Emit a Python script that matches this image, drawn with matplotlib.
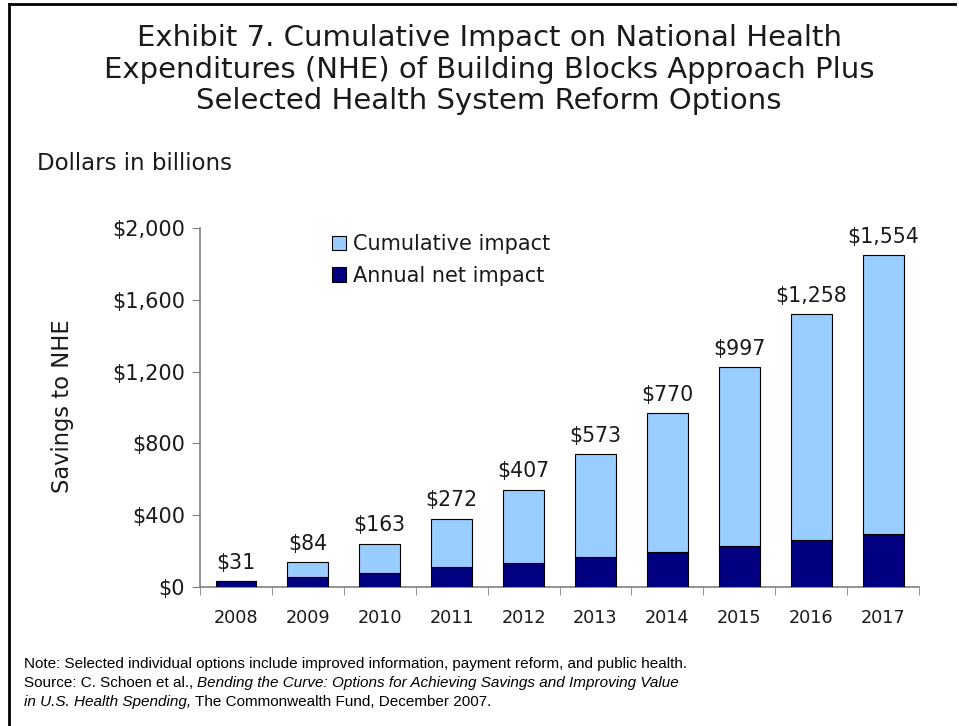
import matplotlib
matplotlib.use("Agg")
import matplotlib.pyplot as plt
from matplotlib.lines import Line2D
from matplotlib.patches import Patch
import numpy as np

years = ["2008", "2009", "2010", "2011", "2012", "2013", "2014", "2015", "2016", "2017"]
# values printed above the bars (cumulative)
cumulative_labels = [31, 84, 163, 272, 407, 573, 770, 997, 1258, 1554]
# light blue segment as drawn (none visible in 2008)
cumulative_bar = [0, 84, 163, 272, 407, 573, 770, 997, 1258, 1554]
annual_net = [31, 53, 79, 109, 135, 166, 197, 227, 261, 296]
y_ticks = [0, 400, 800, 1200, 1600, 2000]

LIGHT = "#99CCFF"
NAVY = "#000080"
GREY = "#808080"
TXT = "#1a1a1a"

plt.rcParams["font.family"] = ["DejaVu Sans"]

fig = plt.figure(figsize=(9.59, 7.26), dpi=100)
ax = fig.add_axes([0.2086, 0.1915, 0.7497, 0.4945])

x = np.arange(len(years))
w = 0.57
ax.bar(x, annual_net, w, color=NAVY, edgecolor="black", linewidth=0.8, zorder=3)
ax.bar(x, cumulative_bar, w, bottom=annual_net, color=LIGHT, edgecolor="black",
       linewidth=0.8, zorder=3)

totals = [a + c for a, c in zip(annual_net, cumulative_bar)]
for xi, t, lab in zip(x, totals, cumulative_labels):
    ax.annotate(f"${lab:,}", (xi, t), xytext=(0, 6), textcoords="offset points",
                ha="center", va="bottom", fontsize=14.8, color=TXT)

ax.set_xlim(-0.5, len(years) - 0.5)
ax.set_ylim(0, 2000)
ax.set_yticks(y_ticks)
ax.set_yticklabels([f"${v:,}" for v in y_ticks], color=TXT)
ax.set_xticks(x)
ax.set_xticklabels(years, color=TXT)
ax.set_xticks(np.arange(-0.5, len(years)), minor=True)
ax.tick_params(axis="x", which="major", length=0, pad=16, labelsize=12.7)
ax.tick_params(axis="x", which="minor", length=6, color=GREY, direction="out")
ax.tick_params(axis="y", length=6, color=GREY, labelsize=15, pad=5)

for s in ["top", "right"]:
    ax.spines[s].set_visible(False)
for s in ["left", "bottom"]:
    ax.spines[s].set_color(GREY)
    ax.spines[s].set_linewidth(1.2)

fig.text(63 / 959, 1 - 406 / 726, "Savings to NHE", rotation=90, fontsize=16.3,
         ha="center", va="center", color=TXT)

handles = [Patch(facecolor=LIGHT, edgecolor="black", linewidth=0.8),
           Patch(facecolor=NAVY, edgecolor="black", linewidth=0.8)]
ax.legend(handles, ["Cumulative impact", "Annual net impact"], loc="upper left",
          bbox_to_anchor=(0.157, 1.035), frameon=False, fontsize=15,
          handlelength=0.7, handleheight=0.7, handletextpad=0.3, labelspacing=0.55,
          labelcolor=TXT)

fig.text(0.51, 1 - 69.5 / 726, "Exhibit 7. Cumulative Impact on National Health\n"
         "Expenditures (NHE) of Building Blocks Approach Plus\n"
         "Selected Health System Reform Options",
         ha="center", va="center", fontsize=21, linespacing=1.15, color=TXT)
fig.text(0.039, 1 - 164 / 726, "Dollars in billions", fontsize=16.5, va="center", color=TXT)

fn = 11
fig.text(0.025, 1 - 664 / 726,
         "Note: Selected individual options include improved information, payment reform, and public health.",
         family="Liberation Sans", fontsize=fn, va="center")
src1 = fig.text(0.025, 1 - 683 / 726, "Source: C. Schoen et al., ", family="Liberation Sans",
                fontsize=fn, va="center")
fig.canvas.draw()
bb = src1.get_window_extent()
fig.text(bb.x1 / fig.bbox.width, 1 - 683 / 726,
         "Bending the Curve: Options for Achieving Savings and Improving Value",
         family="Liberation Sans", style="italic", fontsize=fn, va="center")
t3 = fig.text(0.025, 1 - 702 / 726, "in U.S. Health Spending,", family="Liberation Sans",
              style="italic", fontsize=fn, va="center")
fig.canvas.draw()
bb = t3.get_window_extent()
fig.text(bb.x1 / fig.bbox.width, 1 - 702 / 726, " The Commonwealth Fund, December 2007.",
         family="Liberation Sans", fontsize=fn, va="center")

# frame around the slide
fig.add_artist(Line2D([0.0089, 0.0089], [0, 0.9945], transform=fig.transFigure,
                      color="black", linewidth=2))
fig.add_artist(Line2D([0.0089, 0.996], [0.9945, 0.9945], transform=fig.transFigure,
                      color="black", linewidth=2))

fig.savefig("out.png", dpi=100)
